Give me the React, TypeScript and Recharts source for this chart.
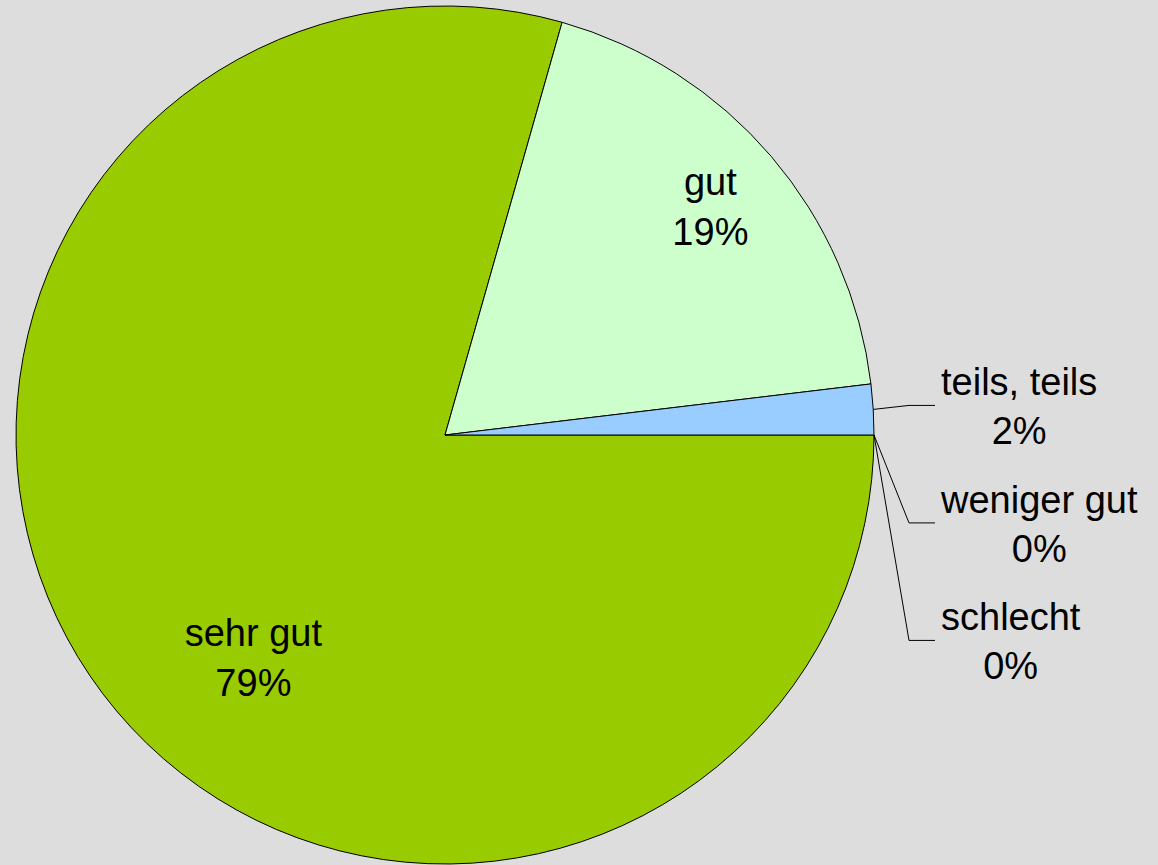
import React from 'react';
import { PieChart, Pie, Cell } from 'recharts';

const categories = ['sehr gut', 'gut', 'teils, teils', 'weniger gut', 'schlecht'];
const shares = [79.4, 18.7, 1.9, 0, 0];
const colors = ['#99cc00', '#ccffcc', '#99ccff', '#ffcc99', '#ff9999'];

const data = categories.map((name, i) => ({ name, value: shares[i] }));

const FONT = "'Liberation Sans', Arial, sans-serif";
const FONT_SIZE = 38;
const RADIAN = Math.PI / 180;

// inside label placement (angle shift in degrees, radius factor)
const insideAdjust: Record<string, { da: number; r: number }> = {
  'sehr gut': { da: 12.3, r: 0.686 },
  gut: { da: 0.2, r: 0.816 },
};

let measureCtx: CanvasRenderingContext2D | null = null;
function textWidth(s: string) {
  if (!measureCtx) {
    measureCtx = document.createElement('canvas').getContext('2d');
  }
  if (!measureCtx) return s.length * FONT_SIZE * 0.5;
  measureCtx.font = `${FONT_SIZE}px ${FONT}`;
  return measureCtx.measureText(s).width;
}

let outsideY: number[] = [];

function renderLabel(props: any) {
  const { cx, cy, midAngle, outerRadius, percent, name, index } = props;
  const pct = `${Math.round(percent * 100)}%`;
  const adj = insideAdjust[name];
  if (adj) {
    const a = midAngle + adj.da;
    const x = cx + outerRadius * adj.r * Math.cos(-a * RADIAN);
    const y = cy + outerRadius * adj.r * Math.sin(-a * RADIAN);
    return (
      <g key={`lbl-${index}`}>
        <text x={x} y={y - 12} textAnchor="middle" fontFamily={FONT} fontSize={FONT_SIZE} fill="#000">
          {name}
        </text>
        <text x={x} y={y + 38} textAnchor="middle" fontFamily={FONT} fontSize={FONT_SIZE} fill="#000">
          {pct}
        </text>
      </g>
    );
  }
  // outside labels stacked downward
  const sx = cx + outerRadius * Math.cos(-midAngle * RADIAN);
  const sy = cy + outerRadius * Math.sin(-midAngle * RADIAN);
  let ly = sy - 4;
  if (outsideY.length > 0) {
    ly = Math.max(ly, outsideY[outsideY.length - 1] + 117.5);
  }
  if (index === 2) outsideY = [];
  outsideY.push(ly);
  const elbowX = cx + outerRadius + 35;
  const endX = elbowX + 26;
  const textX = endX + 6;
  const w = textWidth(name);
  return (
    <g key={`lbl-${index}`}>
      <polyline points={`${sx},${sy} ${elbowX},${ly} ${endX},${ly}`} fill="none" stroke="#000" strokeWidth={1} />
      <text x={textX} y={ly - 10} textAnchor="start" fontFamily={FONT} fontSize={FONT_SIZE} fill="#000">
        {name}
      </text>
      <text x={textX + w / 2} y={ly + 39} textAnchor="middle" fontFamily={FONT} fontSize={FONT_SIZE} fill="#000">
        {pct}
      </text>
    </g>
  );
}

export default function App() {
  outsideY = [];
  return (
    <div style={{ position: 'absolute', left: 0, top: 0, width: 1158, height: 865, background: '#dddddd' }}>
      <PieChart width={1158} height={865} margin={{ top: 0, right: 0, bottom: 0, left: 0 }}>
        <Pie
          data={data}
          dataKey="value"
          nameKey="name"
          cx={445}
          cy={435}
          outerRadius={429}
          startAngle={0}
          endAngle={-360}
          stroke="#000"
          strokeWidth={1}
          label={renderLabel}
          labelLine={false}
          isAnimationActive={false}
        >
          {data.map((d, i) => (
            <Cell key={d.name} fill={colors[i]} />
          ))}
        </Pie>
      </PieChart>
    </div>
  );
}
